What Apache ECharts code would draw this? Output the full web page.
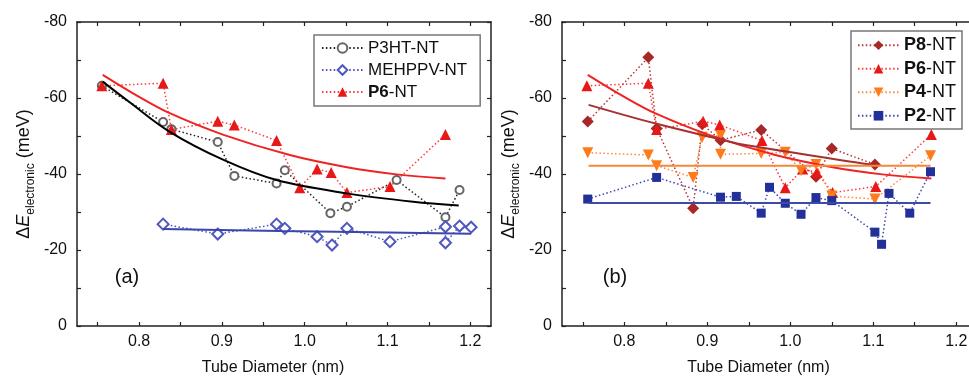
<!DOCTYPE html>
<html>
<head>
<meta charset="utf-8">
<script src="https://cdn.jsdelivr.net/npm/echarts@6/dist/echarts.min.js"></script>
<style>
  html, body {margin: 0; padding: 0; background: #fff;}
  #chart {width: 969px; height: 382px;}
</style>
</head>
<body>
<div id="chart"></div>
<script>
// tick positions
const xTicks = [0.75, 0.8, 0.85, 0.9, 0.95, 1.0, 1.05, 1.1, 1.15, 1.2];
const xLabels = [0.8, 0.9, 1.0, 1.1, 1.2];
const yTicks = [-80, -70, -60, -50, -40, -30, -20, -10, 0];

// panel (a)
const p3htX = [0.755, 0.829, 0.839, 0.895, 0.915, 0.966, 0.976, 1.031, 1.051, 1.111, 1.170, 1.187];
const p3htY = [-63.2, -53.7, -51.8, -48.4, -39.5, -37.5, -41.0, -29.7, -31.4, -38.4, -28.6, -35.8];
const mehX = [0.829, 0.895, 0.966, 0.976, 1.015, 1.033, 1.051, 1.103, 1.170, 1.170, 1.187, 1.201];
const mehY = [-26.8, -24.2, -26.8, -25.7, -23.5, -21.3, -25.7, -22.2, -26.1, -21.9, -26.3, -26.0];
const p6X = [0.755, 0.829, 0.839, 0.895, 0.915, 0.966, 0.994, 1.015, 1.032, 1.051, 1.103, 1.170];
const p6Y = [-63.2, -63.9, -51.7, -53.9, -52.9, -48.8, -36.4, -41.3, -40.4, -35.1, -36.7, -50.4];
const blackFitX = [0.756, 0.789, 0.837, 0.902, 0.966, 1.051, 1.131, 1.186];
const blackFitY = [-64.3, -58.8, -51.1, -43.7, -38.4, -34.9, -32.7, -31.7];
const redFitX = [0.756, 0.800, 0.837, 0.902, 0.982, 1.051, 1.111, 1.170];
const redFitY = [-66.1, -60.3, -56.0, -50.3, -45.0, -41.8, -39.9, -38.8];
const blueFitX = [0.829, 0.970, 1.201];
const blueFitY = [-25.5, -25.0, -24.3];

// panel (b)
const p8X = [0.756, 0.829, 0.839, 0.883, 0.894, 0.916, 0.965, 1.031, 1.050, 1.102];
const p8Y = [-53.8, -70.7, -52.0, -31.0, -53.1, -48.9, -51.6, -39.3, -46.7, -42.5];
const p4X = [0.756, 0.829, 0.839, 0.883, 0.894, 0.916, 0.916, 0.965, 0.994, 1.013, 1.031, 1.050, 1.102, 1.169];
const p4Y = [-45.6, -45.0, -42.2, -39.1, -49.7, -50.1, -45.2, -45.4, -45.7, -40.9, -42.5, -34.2, -33.4, -44.8];
const p2X = [0.756, 0.839, 0.916, 0.935, 0.965, 0.975, 0.994, 1.013, 1.031, 1.050, 1.102, 1.110, 1.119, 1.144, 1.169];
const p2Y = [-33.4, -39.1, -33.9, -34.1, -29.7, -36.5, -32.3, -29.4, -33.8, -33.0, -24.7, -21.5, -34.9, -29.7, -40.6];
const darkRedFitX = [0.757, 0.839, 0.916, 0.939, 1.084, 1.102];
const darkRedFitY = [-58.2, -53.2, -49.1, -47.9, -42.9, -42.4];
const orangeFitX = [0.757, 1.169];
const orangeFitY = [-42.2, -42.2];
const navyFitX = [0.757, 1.169];
const navyFitY = [-32.4, -32.4];

const FONT = '"Liberation Sans", Arial, sans-serif';
const zip = (xs, ys) => xs.map((x, i) => [x, ys[i]]);

function xAxisPair(grid) {
  const base = {
    gridIndex: grid, type: 'value', min: 0.725, max: 1.225,
    axisLine: {show: true, onZero: false, lineStyle: {color: '#222', width: 1.5}},
    axisTick: {show: true, inside: true, length: 4, customValues: xTicks, lineStyle: {color: '#222', width: 1.2}},
    splitLine: {show: false},
  };
  return [
    {...base, position: 'bottom',
      axisLabel: {customValues: xLabels, formatter: v => v.toFixed(1), color: '#111', fontSize: 16, fontFamily: FONT, margin: 8},
      name: 'Tube Diameter (nm)', nameLocation: 'middle', nameGap: 34,
      nameTextStyle: {color: '#111', fontSize: 16, fontFamily: FONT, padding: [0, 22, 0, 0]}},
    {...base, position: 'top', axisLabel: {show: false}},
  ];
}

function yAxisPair(grid) {
  const base = {
    gridIndex: grid, type: 'value', min: -80, max: 0, interval: 20, inverse: true,
    axisLine: {show: true, onZero: false, lineStyle: {color: '#222', width: 1.5}},
    axisTick: {show: true, inside: true, length: 4, customValues: yTicks, lineStyle: {color: '#222', width: 1.2}},
    splitLine: {show: false},
  };
  return [
    {...base, position: 'left',
      axisLabel: {color: '#111', fontSize: 16, fontFamily: FONT, margin: 10},
      name: '{d|Δ}{e|E}{s|electronic}{m| (meV)}', nameLocation: 'middle', nameRotate: 90, nameGap: 40,
      nameTextStyle: {
        color: '#111', fontFamily: FONT,
        rich: {
          d: {fontSize: 18, fontFamily: FONT, color: '#111'},
          e: {fontSize: 18, fontStyle: 'italic', fontFamily: FONT, color: '#111'},
          s: {fontSize: 12, fontFamily: FONT, color: '#111', verticalAlign: 'bottom', padding: [14, 0, 0, 0]},
          m: {fontSize: 18, fontFamily: FONT, color: '#111'},
        },
      }},
    {...base, position: 'right', axisLabel: {show: false}},
  ];
}

function dataLine(name, xs, ys, axis, color, lineColor, symbol, size, extra = {}) {
  const empty = symbol.startsWith('empty');
  return {
    name, type: 'line', xAxisIndex: axis, yAxisIndex: axis,
    data: zip(xs, ys),
    symbol, symbolSize: size, showSymbol: true,
    lineStyle: {color: lineColor, width: 1.5, type: [1.5, 2.4]},
    itemStyle: {color, borderColor: color, borderWidth: empty ? 0.8 : 0},
    emphasis: {disabled: true},
    z: 3,
    ...extra,
  };
}

function fitLine(xs, ys, axis, color, width = 2) {
  return {
    type: 'line', xAxisIndex: axis, yAxisIndex: axis, data: zip(xs, ys),
    smooth: 0.35, showSymbol: false, symbol: 'none', silent: true,
    lineStyle: {color, width}, z: 4,
  };
}

function legendName(name) {
  const m = name.match(/^(P\d)(-NT)$/);
  return m ? `{b|${m[1]}}{n|${m[2]}}` : `{n|${name}}`;
}

const chart = echarts.init(document.getElementById('chart'), null, {renderer: 'canvas'});
chart.setOption({
  animation: false,
  backgroundColor: '#fff',
  grid: [
    {left: 77, top: 22, width: 414, height: 304, outerBoundsMode: 'none'},
    {left: 562, top: 22, width: 415, height: 304, outerBoundsMode: 'none'},
  ],
  xAxis: [...xAxisPair(0), ...xAxisPair(1)],
  yAxis: [...yAxisPair(0), ...yAxisPair(1)],
  legend: [
    {
      data: ['P3HT-NT', 'MEHPPV-NT', 'P6-NT'], orient: 'vertical', left: 314, top: 35,
      padding: [3, 13, 4, 7], itemGap: 2, itemWidth: 41, itemHeight: 12, selectedMode: false,
      borderColor: '#777', borderWidth: 1.5, backgroundColor: '#fff',
      formatter: legendName,
      textStyle: {fontSize: 17, fontFamily: FONT, color: '#111', lineHeight: 20,
        rich: {b: {fontSize: 17, fontWeight: 'bold', fontFamily: FONT, color: '#111', lineHeight: 20},
               n: {fontSize: 17, fontFamily: FONT, color: '#111', lineHeight: 20}}},
    },
    {
      data: ['P8-NT', 'P6-NT', 'P4-NT', 'P2-NT'], orient: 'vertical', left: 851, top: 31,
      padding: [4, 6, 3, 6], itemGap: 3, itemWidth: 41, itemHeight: 12, selectedMode: false,
      borderColor: '#777', borderWidth: 1.5, backgroundColor: '#fff',
      formatter: legendName,
      textStyle: {fontSize: 18, fontFamily: FONT, color: '#111', lineHeight: 20.5,
        rich: {b: {fontSize: 18, fontWeight: 'bold', fontFamily: FONT, color: '#111', lineHeight: 20.5},
               n: {fontSize: 18, fontFamily: FONT, color: '#111', lineHeight: 20.5}}},
    },
  ],
  graphic: [
    {type: 'text', x: 127, y: 277, style: {text: '(a)', font: `20px ${FONT}`, fill: '#111', align: 'center', verticalAlign: 'middle'}},
    {type: 'text', x: 615, y: 277, style: {text: '(b)', font: `20px ${FONT}`, fill: '#111', align: 'center', verticalAlign: 'middle'}},
  ],
  series: [
    // panel (a)
    dataLine('P3HT-NT', p3htX, p3htY, 0, '#666', '#222', 'emptyCircle', 8),
    dataLine('MEHPPV-NT', mehX, mehY, 0, '#5058c0', '#4b52b8', 'emptyDiamond', 11),
    dataLine('P6-NT', p6X, p6Y, 0, '#e81818', '#ff3a3a', 'triangle', 11),
    fitLine(blackFitX, blackFitY, 0, '#000'),
    fitLine(redFitX, redFitY, 0, '#ee2424'),
    fitLine(blueFitX, blueFitY, 0, '#3a46a8'),
    // panel (b)
    dataLine('P8-NT', p8X, p8Y, 2, '#a82828', '#b83434', 'diamond', 12),
    dataLine('P6-NT', p6X, p6Y, 2, '#e81818', '#ff3a3a', 'triangle', 11),
    dataLine('P4-NT', p4X, p4Y, 2, '#ff7a1a', '#ff8a3a', 'triangle', 11, {symbolRotate: 180}),
    dataLine('P2-NT', p2X, p2Y, 2, '#22309a', '#3a46b0', 'rect', 9),
    fitLine(redFitX, redFitY, 2, '#ee2424'),
    fitLine(darkRedFitX, darkRedFitY, 2, '#a83030'),
    fitLine(orangeFitX, orangeFitY, 2, '#f5893a'),
    fitLine(navyFitX, navyFitY, 2, '#3f4aa8'),
  ],
});
</script>
</body>
</html>
